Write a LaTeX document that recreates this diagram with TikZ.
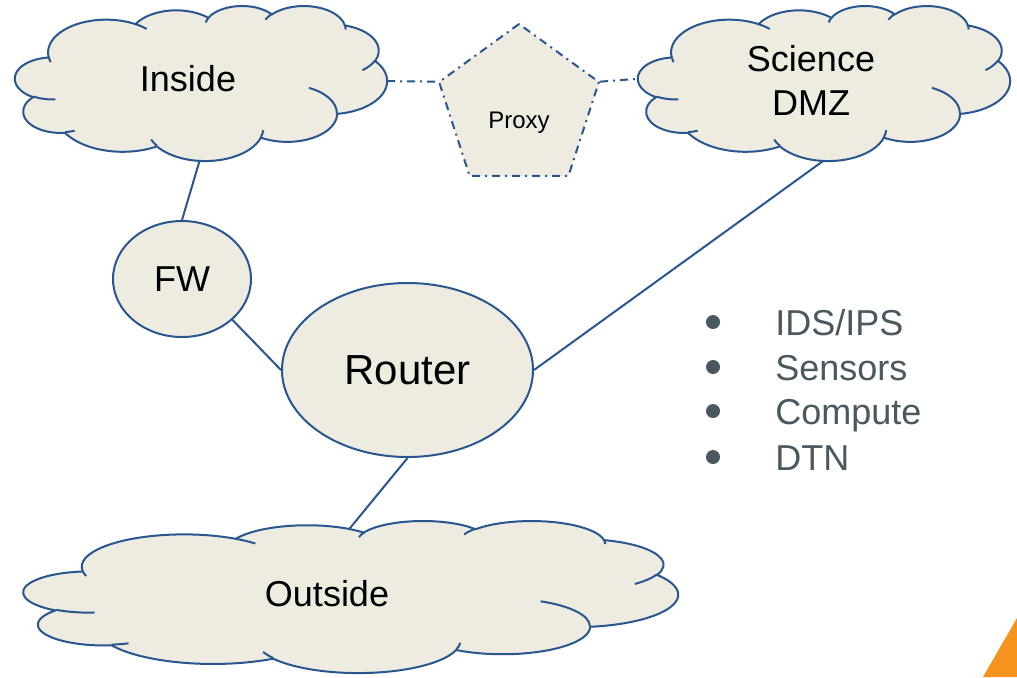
\documentclass[tikz,border=0pt]{standalone}
\usepackage{fontspec}
\setmainfont{Liberation Sans}
\usetikzlibrary{shapes.geometric}
\definecolor{clEdge}{HTML}{2A568F}
\definecolor{clFill}{HTML}{EEECE1}
\definecolor{clGray}{HTML}{4A5860}
\definecolor{clOrange}{HTML}{F6921E}
% DrawingML-style arc: radii, visual start angle, visual sweep
\newcommand\oarc[4]{arc[x radius=#1, y radius=#2,
  start angle={atan2((#1)*sin(#3),(#2)*cos(#3))},
  delta angle={mod(atan2((#1)*sin((#3)+(#4)),(#2)*cos((#3)+(#4)))-atan2((#1)*sin(#3),(#2)*cos(#3))+720,360)}]}
\newcommand\cloudbody{(3.900,14.370)
  \oarc{6.753}{9.190}{-190.487}{123.781}
  \oarc{5.333}{7.267}{-144.102}{89.945}
  \oarc{4.365}{5.945}{-145.808}{99.723}
  \oarc{4.857}{6.595}{-130.986}{117.242}
  \oarc{5.333}{7.273}{-78.709}{109.027}
  \oarc{6.775}{9.220}{-46.267}{130.269}
  \oarc{5.785}{7.867}{0.625}{114.033}
  \oarc{6.752}{9.215}{22.452}{115.173}
  \oarc{7.720}{10.543}{66.243}{75.711}
  \oarc{4.360}{5.918}{-274.942}{146.736}
  \oarc{4.345}{5.945}{-246.829}{152.519} -- cycle}
\newcommand\cloudcreases{
  (4.693,26.177) \oarc{4.345}{5.945}{86.742}{26.430}
  (6.928,34.899) \oarc{4.360}{5.918}{73.610}{11.447}
  (16.478,39.090) \oarc{6.752}{9.215}{137.624}{14.081}
  (28.827,34.751) \oarc{6.752}{9.215}{6.453}{15.998}
  (34.129,22.954) \oarc{5.785}{7.867}{-70.292}{70.917}
  (41.798,15.354) \oarc{5.333}{7.273}{30.318}{27.752}
  (38.324,5.426) \oarc{4.857}{6.595}{-13.744}{14.850}
  (29.078,3.952) \oarc{4.857}{6.595}{-149.181}{18.194}
  (22.141,4.720) \oarc{4.365}{5.945}{-163.494}{17.689}
  (14.000,5.192) \oarc{6.753}{9.190}{-66.707}{12.319}
  (4.127,15.789) \oarc{6.753}{9.190}{157.654}{11.858}}
\tikzset{
  cloudskin/.style={draw=clEdge, fill=clFill, line width=1pt, line join=round},
  crease/.style={draw=clEdge, line width=1pt},
  bubble/.style={ellipse, draw=clEdge, fill=clFill, line width=1pt, inner sep=0pt},
  link/.style={draw=clEdge, line width=1pt},
  dashlink/.style={draw=clEdge, line width=1pt, dash pattern=on 4pt off 2.5pt on 1pt off 2.5pt},
  bigtext/.style={font=\fontsize{18}{22}\selectfont, text=black, inner sep=0pt, align=center},
  listtext/.style={font=\fontsize{18}{22}\selectfont, text=clGray, inner sep=0pt, anchor=base west},
}
\begin{document}
\begin{tikzpicture}[x=0.5pt,y=-0.5pt]
\fill[white] (0,0) rectangle (1017,677);
\useasboundingbox (0,0) rectangle (1017,677);

% Inside cloud
\begin{scope}[shift={(15,5.5)}, x=4.3056pt, y=-1.7940pt]
  \path[cloudskin] \cloudbody;
  \path[crease] \cloudcreases;
  \coordinate (inside-s) at (21.43,43.31);
  \coordinate (inside-e) at (43.20,21.07);
\end{scope}
% Science DMZ cloud
\begin{scope}[shift={(638,5.5)}, x=4.3056pt, y=-1.7940pt]
  \path[cloudskin] \cloudbody;
  \path[crease] \cloudcreases;
  \coordinate (dmz-s) at (21.50,43.32);
  \coordinate (dmz-w) at (-0.04,20.42);
\end{scope}
% Outside cloud
\begin{scope}[shift={(23.6,520.5)}, x=7.5741pt, y=-1.7593pt]
  \path[cloudskin] \cloudbody;
  \path[crease] \cloudcreases;
  \coordinate (out-n) at (21.50,2.41);
\end{scope}

\node[bigtext] (inside) at (188,79) {Inside};
\node[bigtext] (dmz) at (811,80) {Science\\DMZ};
\node[bigtext] (outside) at (327,594) {Outside};

\node[bubble, minimum width=69pt, minimum height=58pt, font=\fontsize{18}{22}\selectfont] (fw) at (182,279) {FW};
\node[bubble, minimum width=125.5pt, minimum height=87pt, font=\fontsize{21}{25}\selectfont] (router) at (407.5,370) {Router};

\node[regular polygon, regular polygon sides=5, minimum size=84pt, inner sep=0pt,
      fill=clFill, dashlink, font=\fontsize{12}{14}\selectfont] (proxy) at (519,108)
      {\raisebox{-10.2pt}[0pt][0pt]{Proxy}};

% connectors
\draw[link] (inside-s) -- (fw.north);
\draw[link] (fw.-39) -- (router.west);
\draw[link] (router.south) -- (out-n);
\draw[link] (router.east) -- (dmz-s);
\draw[dashlink] (inside-e) -- (proxy.corner 2);
\draw[dashlink] (proxy.corner 5) -- (dmz-w);

% bullet list
\fill[clGray] (713,322) circle[radius=7];
\fill[clGray] (713,367) circle[radius=7];
\fill[clGray] (713,411) circle[radius=7];
\fill[clGray] (713,457) circle[radius=7];
\node[listtext] (l1) at (775,335) {IDS/IPS};
\node[listtext] (l2) at (775,380) {Sensors};
\node[listtext] (l3) at (775,424) {Compute};
\node[listtext] (l4) at (775,470) {DTN};

% corner accent
\fill[clOrange] (1017,618) -- (983,677) -- (1017,677) -- cycle;
\end{tikzpicture}
\end{document}
